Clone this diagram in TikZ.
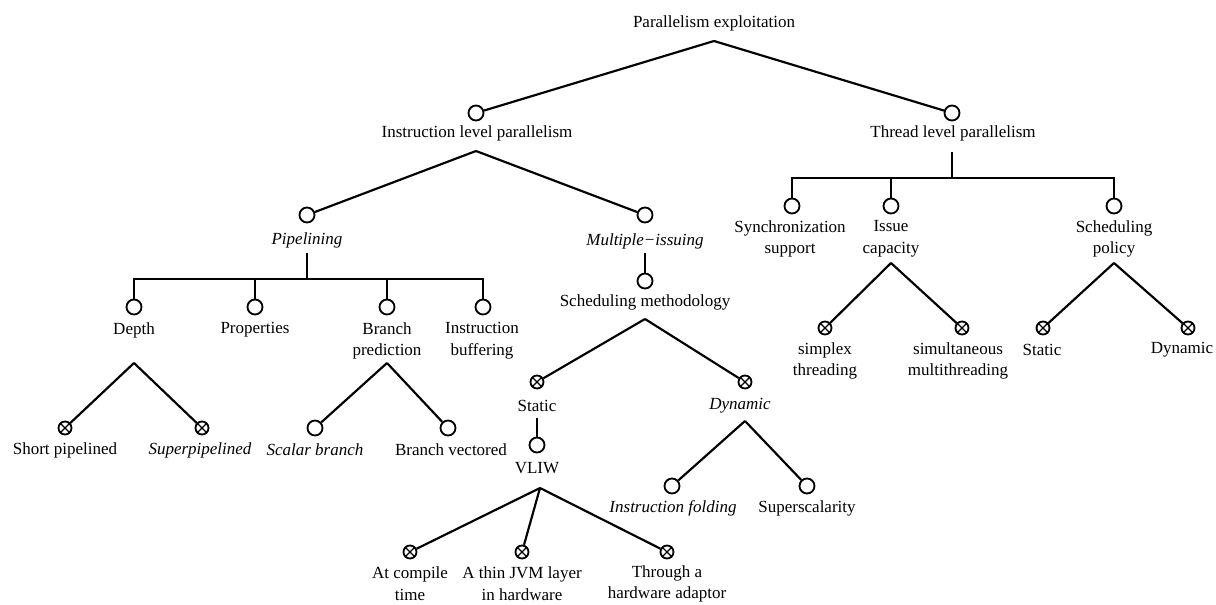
\documentclass[tikz,border=0pt]{standalone}
\usepackage{fontspec}
\setmainfont{Liberation Serif}
\usetikzlibrary{positioning, calc}

\begin{document}
\begin{tikzpicture}[x=0.6pt, y=-0.6pt, line width=1.3pt,
  font=\fontsize{10.2}{13}\selectfont,
  feat/.style={circle, draw, line width=1.1pt, minimum size=9pt, inner sep=0pt},
  xfeat/.style={feat, minimum size=7.8pt,
    path picture={\draw[line width=0.8pt]
      (path picture bounding box.north west) -- (path picture bounding box.south east)
      (path picture bounding box.north east) -- (path picture bounding box.south west);}},
  lbl/.style={align=center, inner sep=0pt}]
  \useasboundingbox (0,0) rectangle (1216,604);

  % top levels
  \node[lbl] (pe) at (714,23) {Parallelism exploitation};
  \coordinate (pe-f) at (714,41);

  \node[feat] (ilp-c) at (476,113) {};
  \node[lbl] (ilp) at (477,133) {Instruction level parallelism};
  \coordinate (ilp-f) at (476,151);

  \node[feat] (tlp-c) at (952,113) {};
  \node[lbl] (tlp) at (953,133) {Thread level parallelism};
  \coordinate (tlp-f) at (952,152);
  \coordinate (tlp-bar) at (952,178);

  \draw (pe-f) -- (ilp-c);
  \draw (pe-f) -- (tlp-c);

  % instruction level
  \node[feat] (pipe-c) at (307,215) {};
  \node[lbl] (pipe) at (307,240) {\textit{Pipelining}};
  \coordinate (pipe-f) at (307,253);
  \coordinate (pipe-bar) at (307,279);

  \node[feat] (multi-c) at (645,215) {};
  \node[lbl] (multi) at (645,241) {\textit{Multiple−issuing}};
  \coordinate (multi-f) at (645,253);

  \draw (ilp-f) -- (pipe-c);
  \draw (ilp-f) -- (multi-c);

  \node[feat] (depth-c) at (134,307) {};
  \node[lbl] (depth) at (134,330) {Depth};
  \coordinate (depth-f) at (134,363);

  \node[feat] (prop-c) at (255,307) {};
  \node[lbl] (prop) at (255,330) {Properties};

  \node[feat] (bp-c) at (387,307) {};
  \node[lbl] (bp) at (387,341) {Branch\\prediction};
  \coordinate (bp-f) at (387,363);

  \node[feat] (ib-c) at (483,307) {};
  \node[lbl] (ib) at (482,341) {Instruction\\buffering};

  \draw (pipe-f) -- (pipe-bar);
  \draw (pipe-bar) -| (depth-c);
  \draw (pipe-bar) -| (prop-c);
  \draw (pipe-bar) -| (bp-c);
  \draw (pipe-bar) -| (ib-c);

  \node[xfeat] (short-c) at (65,428) {};
  \node[lbl] (short) at (65,450) {Short pipelined};
  \node[xfeat] (super-c) at (202,428) {};
  \node[lbl] (super) at (200,450) {\textit{Superpipelined}};
  \draw (depth-f) -- (short-c);
  \draw (depth-f) -- (super-c);

  \node[feat] (scalar-c) at (315,428) {};
  \node[lbl] (scalar) at (315,450) {\textit{Scalar branch}};
  \node[feat] (vect-c) at (448,428) {};
  \node[lbl] (vect) at (451,450) {Branch vectored};
  \draw (bp-f) -- (scalar-c);
  \draw (bp-f) -- (vect-c);

  % scheduling methodology
  \node[feat] (sm-c) at (645,281) {};
  \node[lbl] (sm) at (645,302) {Scheduling methodology};
  \coordinate (sm-f) at (645,319);
  \draw (multi-f) -- (sm-c);

  \node[xfeat] (st-c) at (537,382) {};
  \node[lbl] (st) at (537,406) {Static};
  \coordinate (st-f) at (537,418);
  \node[xfeat] (dyn-c) at (745,382) {};
  \node[lbl] (dyn) at (740,406) {\textit{Dynamic}};
  \coordinate (dyn-f) at (745,421);
  \draw (sm-f) -- (st-c);
  \draw (sm-f) -- (dyn-c);

  \node[feat] (vliw-c) at (537,445) {};
  \node[lbl] (vliw) at (537,468) {VLIW};
  \coordinate (vliw-f) at (540,488);
  \draw (st-f) -- (vliw-c);

  \node[feat] (fold-c) at (672,486) {};
  \node[lbl] (fold) at (673,508) {\textit{Instruction folding}};
  \node[feat] (ss-c) at (807,486) {};
  \node[lbl] (ss) at (807,508) {Superscalarity};
  \draw (dyn-f) -- (fold-c);
  \draw (dyn-f) -- (ss-c);

  \node[xfeat] (ct-c) at (410,552) {};
  \node[lbl] (ct) at (410,584) {At compile\\time};
  \node[xfeat] (jvm-c) at (522,552) {};
  \node[lbl] (jvm) at (522,584) {A thin JVM layer\\in hardware};
  \node[xfeat] (hw-c) at (667,552) {};
  \node[lbl] (hw) at (667,584) {Through a\\hardware adaptor};
  \draw (vliw-f) -- (ct-c);
  \draw (vliw-f) -- (jvm-c);
  \draw (vliw-f) -- (hw-c);

  % thread level
  \node[feat] (sync-c) at (792,206) {};
  \node[lbl] (sync) at (790,239) {Synchronization\\support};
  \node[feat] (ic-c) at (891,206) {};
  \node[lbl] (ic) at (891,239) {Issue\\capacity};
  \coordinate (ic-f) at (891,263);
  \node[feat] (sp-c) at (1114,206) {};
  \node[lbl] (sp) at (1114,239) {Scheduling\\policy};
  \coordinate (sp-f) at (1114,263);

  \draw (tlp-f) -- (tlp-bar);
  \draw (tlp-bar) -| (sync-c);
  \draw (tlp-bar) -| (ic-c);
  \draw (tlp-bar) -| (sp-c);

  \node[xfeat] (simplex-c) at (825,328) {};
  \node[lbl] (simplex) at (825,361) {simplex\\threading};
  \node[xfeat] (smt-c) at (962,328) {};
  \node[lbl] (smt) at (958,361) {simultaneous\\multithreading};
  \draw (ic-f) -- (simplex-c);
  \draw (ic-f) -- (smt-c);

  \node[xfeat] (tst-c) at (1043,328) {};
  \node[lbl] (tst) at (1042,350) {Static};
  \node[xfeat] (tdyn-c) at (1188,328) {};
  \node[lbl] (tdyn) at (1182,350) {Dynamic};
  \draw (sp-f) -- (tst-c);
  \draw (sp-f) -- (tdyn-c);
\end{tikzpicture}
\end{document}
